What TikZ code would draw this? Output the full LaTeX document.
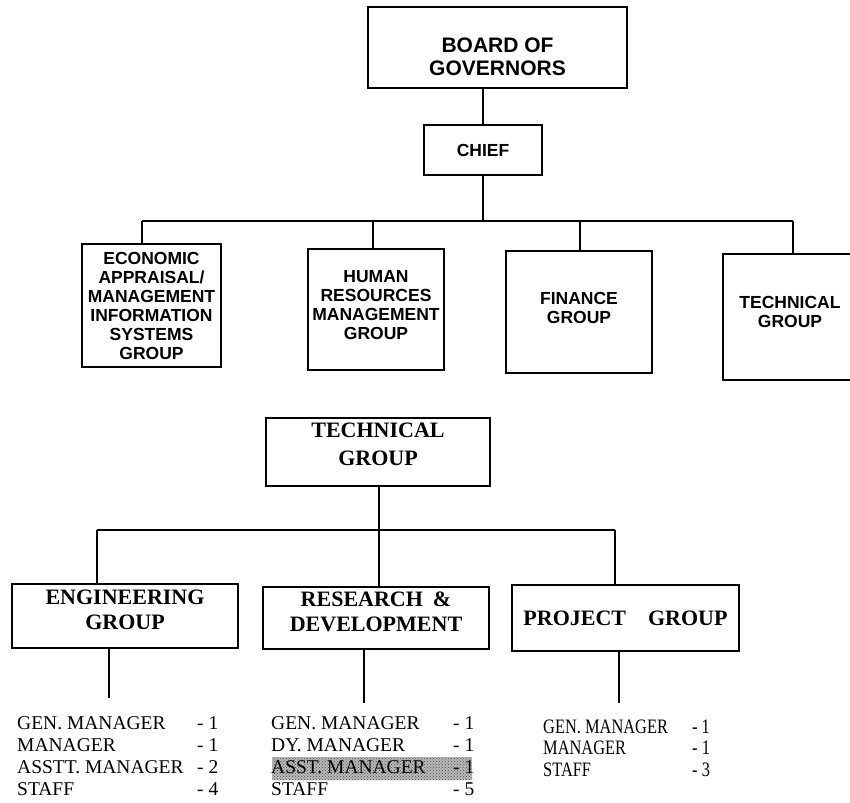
\documentclass[tikz,border=0pt]{standalone}
\usepackage{fontspec}
\setmainfont{Liberation Serif}
\newfontfamily\hv{Liberation Sans}
\newfontfamily\narrowserif[FakeStretch=0.8]{Liberation Serif}
\usetikzlibrary{patterns}
\begin{document}
\begin{tikzpicture}[x=1pt,y=-1pt,
  topbox/.style={draw,line width=1.2pt,inner sep=0pt,align=center,font=\hv\bfseries\fontsize{17.5}{19}\selectfont},
  lowbox/.style={draw,line width=1.2pt,inner sep=0pt,align=center,font=\bfseries\fontsize{22}{25}\selectfont},
  conn/.style={line width=1.4pt},
  stafflist/.style={anchor=base west,inner sep=0pt,font=\fontsize{19.5}{22}\selectfont}]
\useasboundingbox (0,0) rectangle (850,802);
\fill[white] (0,0) rectangle (850,802);

% upper chart
\node[topbox,minimum width=259pt,minimum height=81pt,font=\hv\bfseries\fontsize{21}{23}\selectfont] (board) at (497.5,47.5) {\rule{0pt}{33pt}BOARD OF\\GOVERNORS};
\node[topbox,minimum width=118pt,minimum height=50pt] (chief) at (483,150) {CHIEF};
\node[topbox,minimum width=139pt,minimum height=123pt] (ea) at (151.5,305.5) {ECONOMIC\\APPRAISAL/\\MANAGEMENT\\INFORMATION\\SYSTEMS\\GROUP};
\node[topbox,minimum width=136pt,minimum height=121pt] (hr) at (376,309.5) {HUMAN\\RESOURCES\\MANAGEMENT\\GROUP\rule[-9pt]{0pt}{0pt}};
\node[topbox,minimum width=146pt,minimum height=122pt] (fin) at (579,312) {FINANCE\\GROUP\rule[-9pt]{0pt}{0pt}};
\node[topbox,minimum width=134pt,minimum height=126pt] (tech) at (790,317) {TECHNICAL\\GROUP\rule[-11pt]{0pt}{0pt}};

\coordinate (tL) at (142,221);
\coordinate (tH) at (373,221);
\coordinate (tF) at (580,221);
\coordinate (tR) at (793,221);
\draw[conn] (board.south -| chief.north) -- (chief.north);
\draw[conn] (chief.south) -- (chief.south |- tL);
\draw[conn] (tL) -- (tR);
\draw[conn] (tL) -- (tL |- ea.north);
\draw[conn] (tH) -- (tH |- hr.north);
\draw[conn] (tF) -- (tF |- fin.north);
\draw[conn] (tR) -- (tR |- tech.north);

% lower chart
\node[lowbox,minimum width=224pt,minimum height=68pt,font=\bfseries\fontsize{22}{28}\selectfont] (tg) at (378,452) {TECHNICAL\\GROUP\rule[-16pt]{0pt}{0pt}};
\node[lowbox,minimum width=226pt,minimum height=64pt] (eng) at (125,616) {ENGINEERING\\GROUP\rule[-12pt]{0pt}{0pt}};
\node[lowbox,minimum width=226pt,minimum height=62pt] (rd) at (376,618) {RESEARCH\hspace{10pt}\&\\DEVELOPMENT\rule[-12pt]{0pt}{0pt}};
\node[lowbox,minimum width=227pt,minimum height=66pt] (proj) at (625.5,618) {PROJECT\hspace{22pt}GROUP};

\coordinate (bL) at (97,530);
\coordinate (bM) at (379,530);
\coordinate (bR) at (615,530);
\draw[conn] (tg.south -| bM) -- (bM);
\draw[conn] (bL) -- (bR);
\draw[conn] (bL) -- (bL |- eng.north);
\draw[conn] (bM) -- (bM |- rd.north);
\draw[conn] (bR) -- (bR |- proj.north);

\coordinate (eE) at (109,698);
\coordinate (rE) at (364,703);
\coordinate (pE) at (619,703);
\draw[conn] (eE |- eng.south) -- (eE);
\draw[conn] (rE |- rd.south) -- (rE);
\draw[conn] (pE |- proj.south) -- (pE);

% smudge behind ASST. MANAGER
\fill[black!28] (272,757) rectangle (472,780);
\fill[pattern=crosshatch dots, pattern color=black!70] (272,757) rectangle (472,780);

\node[stafflist] (engl) at (17,729) {\begin{tabular}[t]{@{}p{180pt}@{}l@{}}GEN. MANAGER & - 1\\ MANAGER & - 1\\ ASSTT. MANAGER & - 2\\ STAFF & - 4\end{tabular}};
\node[stafflist] (rdl) at (271,729) {\begin{tabular}[t]{@{}p{182pt}@{}l@{}}GEN. MANAGER & - 1\\ DY. MANAGER & - 1\\ ASST. MANAGER & - 1\\ STAFF & - 5\end{tabular}};
\node[stafflist,font=\narrowserif\fontsize{20.5}{21.5}\selectfont] (projl) at (543,733) {\begin{tabular}[t]{@{}p{149pt}@{}l@{}}GEN. MANAGER & - 1\\ MANAGER & - 1\\ STAFF & - 3\end{tabular}};
\end{tikzpicture}
\end{document}
